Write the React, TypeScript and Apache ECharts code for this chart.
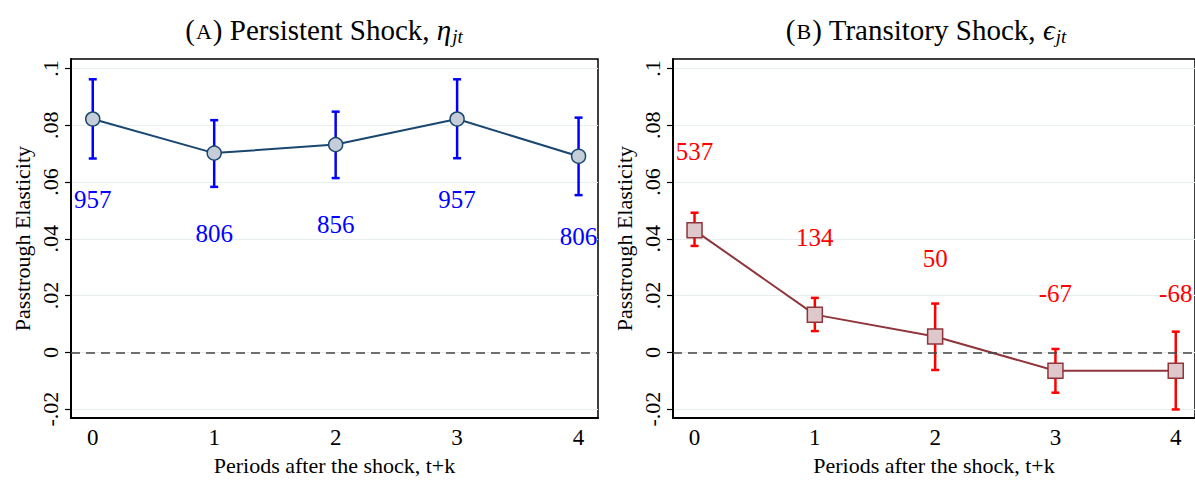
import React, { useEffect, useRef } from "react";
import * as echarts from "echarts";

const periods = [0, 1, 2, 3, 4];

const persistentCoef = [0.0822, 0.0702, 0.0732, 0.0822, 0.0691];
const persistentLow = [0.0683, 0.0583, 0.0614, 0.0684, 0.0554];
const persistentHigh = [0.0962, 0.0818, 0.0848, 0.0962, 0.0827];
const persistentCounts = ["957", "806", "856", "957", "806"];
const persistentCountY = [0.0538, 0.0418, 0.0449, 0.0538, 0.0409];

const transitoryCoef = [0.043, 0.0133, 0.0056, -0.0065, -0.0065];
const transitoryLow = [0.0375, 0.0075, -0.0062, -0.0142, -0.0201];
const transitoryHigh = [0.0492, 0.0192, 0.0172, 0.0012, 0.0073];
const transitoryCounts = ["537", "134", "50", "-67", "-68"];
const transitoryCountY = [0.0707, 0.0406, 0.0329, 0.0208, 0.0208];

const yTicks = [-0.02, 0, 0.02, 0.04, 0.06, 0.08, 0.1];
const xTicks = [0, 1, 2, 3, 4];

const SERIF = "Liberation Serif, Times New Roman, serif";

const fmtY = (v: number) => {
  if (Math.abs(v) < 1e-9) return "0";
  let s = (Math.round(v * 100) / 100).toFixed(2);
  s = s.replace(/0+$/, "");
  s = s.replace(/^(-?)0\./, "$1.");
  return s;
};

function errorBarSeries(idx: number, low: number[], high: number[], color: string) {
  return {
    type: "custom",
    xAxisIndex: idx,
    yAxisIndex: idx,
    z: 2,
    clip: false,
    silent: true,
    data: periods.map((p, i) => [p, low[i], high[i]]),
    encode: { x: 0, y: [1, 2] },
    renderItem: (_params: any, api: any) => {
      const x = api.value(0);
      const lo = api.coord([x, api.value(1)]);
      const hi = api.coord([x, api.value(2)]);
      const hw = 4;
      const style = { stroke: color, lineWidth: 2.5, fill: null };
      return {
        type: "group",
        children: [
          { type: "line", shape: { x1: lo[0], y1: lo[1], x2: hi[0], y2: hi[1] }, style },
          { type: "line", shape: { x1: lo[0] - hw, y1: lo[1], x2: lo[0] + hw, y2: lo[1] }, style },
          { type: "line", shape: { x1: hi[0] - hw, y1: hi[1], x2: hi[0] + hw, y2: hi[1] }, style },
        ],
      };
    },
  };
}

function countSeries(idx: number, ys: number[], texts: string[], color: string) {
  return {
    type: "scatter",
    xAxisIndex: idx,
    yAxisIndex: idx,
    z: 4,
    silent: true,
    symbolSize: 1,
    itemStyle: { color: "rgba(0,0,0,0)" },
    data: periods.map((p, i) => [p, ys[i]]),
    label: {
      show: true,
      position: "inside",
      formatter: (p: any) => texts[p.dataIndex],
      color,
      opacity: 1,
      textBorderWidth: 0,
      fontFamily: SERIF,
      fontSize: 25,
    },
  };
}

function lineSeries(
  idx: number,
  vals: number[],
  symbol: string,
  size: number,
  lineColor: string,
  fill: string,
) {
  return {
    type: "line",
    xAxisIndex: idx,
    yAxisIndex: idx,
    z: 3,
    data: periods.map((p, i) => [p, vals[i]]),
    symbol,
    symbolSize: size,
    showSymbol: true,
    lineStyle: { color: lineColor, width: 2 },
    itemStyle: { color: fill, borderColor: lineColor, borderWidth: 1.5 },
    markLine: {
      silent: true,
      symbol: "none",
      label: { show: false },
      lineStyle: { color: "#444", type: [9, 6], width: 1.5 },
      data: [{ yAxis: 0 }],
    },
  };
}

const gridBase = { top: 59, height: 370, width: 527, show: true, borderColor: "#000", borderWidth: 1.5, backgroundColor: "transparent" };

function xAxisDef(idx: number) {
  return {
    type: "value",
    gridIndex: idx,
    min: -0.179,
    max: 4.16,
    axisLine: { show: true, onZero: false, lineStyle: { color: "#000", width: 2 } },
    axisTick: { show: false, customValues: xTicks },
    axisLabel: { customValues: xTicks, color: "#000", fontFamily: SERIF, fontSize: 23, margin: 8 },
    splitLine: { show: false },
    name: "Periods after the shock, t+k",
    nameLocation: "middle",
    nameGap: 28,
    nameTextStyle: { color: "#000", fontFamily: SERIF, fontSize: 22 },
  };
}

function yAxisDef(idx: number) {
  return {
    type: "value",
    gridIndex: idx,
    min: -0.02315,
    max: 0.10335,
    axisLine: { show: true, onZero: false, lineStyle: { color: "#000", width: 2 } },
    axisTick: { show: true, customValues: yTicks, length: 6, lineStyle: { color: "#000", width: 1.2 } },
    axisLabel: {
      customValues: yTicks,
      rotate: 90,
      formatter: fmtY,
      color: "#000",
      fontFamily: SERIF,
      fontSize: 22,
      margin: 10,
    },
    splitLine: { show: true, lineStyle: { color: "#e6eef0", width: 1.2 } },
    name: "Passtrough Elasticity",
    nameLocation: "middle",
    nameRotate: 90,
    nameGap: 38,
    nameTextStyle: { color: "#000", fontFamily: SERIF, fontSize: 22 },
  };
}

function titleDef(left: number, letter: string, rest: string, greek: string) {
  const base = { fontFamily: SERIF, color: "#000", fontWeight: "normal", lineHeight: 30, verticalAlign: "middle" };
  return {
    left,
    top: 15,
    padding: 0,
    textAlign: "center",
    text: `{n|(}{sc|${letter}}{n|) ${rest}, }{it|${greek}}{sub|jt}`,
    textStyle: {
      fontWeight: "normal",
      rich: {
        n: { ...base, fontSize: 29 },
        sc: { ...base, fontSize: 22, padding: [3, 1, 0, 1] },
        it: { ...base, fontStyle: "italic", fontSize: 29 },
        sub: { ...base, fontStyle: "italic", fontSize: 19, padding: [13, 0, 0, 1] },
      },
    },
  };
}

export default function App() {
  const ref = useRef<HTMLDivElement>(null);

  useEffect(() => {
    if (!ref.current) return;
    const chart = echarts.init(ref.current, undefined, { renderer: "svg" });
    chart.setOption({
      animation: false,
      backgroundColor: "#fff",
      title: [
        titleDef(324, "A", "Persistent Shock", "η"),
        titleDef(926, "B", "Transitory Shock", "ϵ"),
      ],
      grid: [
        { ...gridBase, left: 71 },
        { ...gridBase, left: 673 },
      ],
      xAxis: [xAxisDef(0), xAxisDef(1)],
      yAxis: [yAxisDef(0), yAxisDef(1)],
      series: [
        errorBarSeries(0, persistentLow, persistentHigh, "#0000ff"),
        lineSeries(0, persistentCoef, "circle", 14, "#1a476f", "#c5ced8"),
        countSeries(0, persistentCountY, persistentCounts, "#0000ff"),
        errorBarSeries(1, transitoryLow, transitoryHigh, "#ff0000"),
        lineSeries(1, transitoryCoef, "rect", 15, "#90353b", "#dec8cb"),
        countSeries(1, transitoryCountY, transitoryCounts, "#ff0000"),
      ],
    });
    return () => chart.dispose();
  }, []);

  return (
    <div
      ref={ref}
      style={{ position: "absolute", left: 0, top: 0, width: 1195, height: 481, background: "#fff" }}
    />
  );
}
